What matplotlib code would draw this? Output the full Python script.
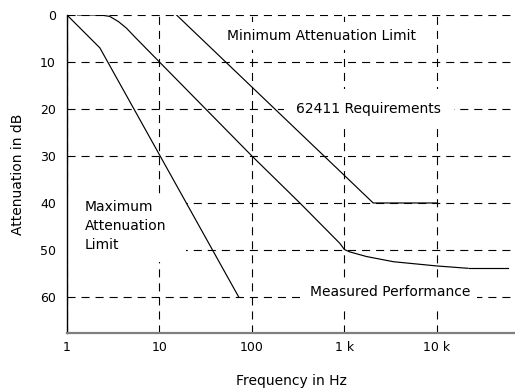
import matplotlib
matplotlib.use("Agg")
import matplotlib.pyplot as plt
from matplotlib.patches import Rectangle

# curves (frequency in Hz, attenuation in dB)
max_limit_f = [1, 2.27, 72]
max_limit_db = [0, 7, 60]

req_f = [15.3, 2050, 10000]
req_db = [0, 40, 40]

meas_f = [1.3, 2.3, 2.9, 3.6, 4.4, 5.5, 10, 100, 330, 894, 1000, 1140, 1740, 3400, 10000, 21800]
meas_db = [0, 0, 0.3, 1.4, 2.8, 4.8, 10, 30, 40, 48.6, 49.9, 50.4, 51.4, 52.5, 53.4, 53.9]
meas_tail_f = [22500, 59000]
meas_tail_db = [53.9, 53.9]

y_ticks = [0, 10, 20, 30, 40, 50, 60]
x_ticks = [1, 10, 100, 1000, 10000]
x_labels = ["1", "10", "100", "1 k", "10 k"]

plt.rcParams["font.family"] = ["DejaVu Sans"]
plt.rcParams["lines.scale_dashes"] = False

fig = plt.figure(figsize=(5.15, 3.89), dpi=100)
ax = fig.add_axes([0.130, 0.144, 0.870, 0.8175])

ax.set_xscale("log")
ax.set_xlim(1, 70000)
ax.set_ylim(67.66, 0)

ax.set_xticks(x_ticks)
ax.set_xticklabels(x_labels)
ax.minorticks_off()
ax.set_yticks(y_ticks)
ax.tick_params(axis="both", labelsize=9, length=0, pad=8)
ax.tick_params(axis="x", pad=6)

for s in ("top", "right"):
    ax.spines[s].set_visible(False)
ax.spines["left"].set_color("black")
ax.spines["left"].set_linewidth(1.0)
ax.spines["bottom"].set_color("#7f7f7f")
ax.spines["bottom"].set_linewidth(1.6)

ax.grid(True, which="major", color="black", linewidth=0.8, linestyle=(0, (5.8, 4.3)))
ax.set_axisbelow(True)

ax.set_xlabel("Frequency in Hz", fontsize=10, labelpad=14)
ax.set_ylabel("Attenuation in dB", fontsize=10, labelpad=11)

# white background behind the left-hand label
ax.add_patch(Rectangle((1, 38.6), 18.3, 13.9, facecolor="white", edgecolor="none", zorder=1))

lw = 0.85
ax.plot(max_limit_f, max_limit_db, color="black", linewidth=lw, zorder=4)
ax.plot(req_f, req_db, color="black", linewidth=lw, zorder=4)
ax.plot(meas_f, meas_db, color="black", linewidth=lw, zorder=4)
ax.plot(meas_tail_f, meas_tail_db, color="black", linewidth=lw, zorder=4)

box = dict(facecolor="white", edgecolor="none", pad=5)
ax.text(571, 4.5, "Minimum Attenuation Limit", fontsize=10, ha="center", va="center",
        bbox=box, zorder=3)
ax.text(1841, 20, "62411 Requirements", fontsize=10, ha="center", va="center",
        bbox=dict(facecolor="white", edgecolor="none", pad=9), zorder=3)
ax.text(424, 59, "Measured Performance", fontsize=10, ha="left", va="center",
        bbox=box, zorder=3)
ax.text(1.57, 39.3, "Maximum\nAttenuation\nLimit", fontsize=10, ha="left", va="top",
        linespacing=1.45, zorder=3)

fig.savefig("out.png", dpi=100)
